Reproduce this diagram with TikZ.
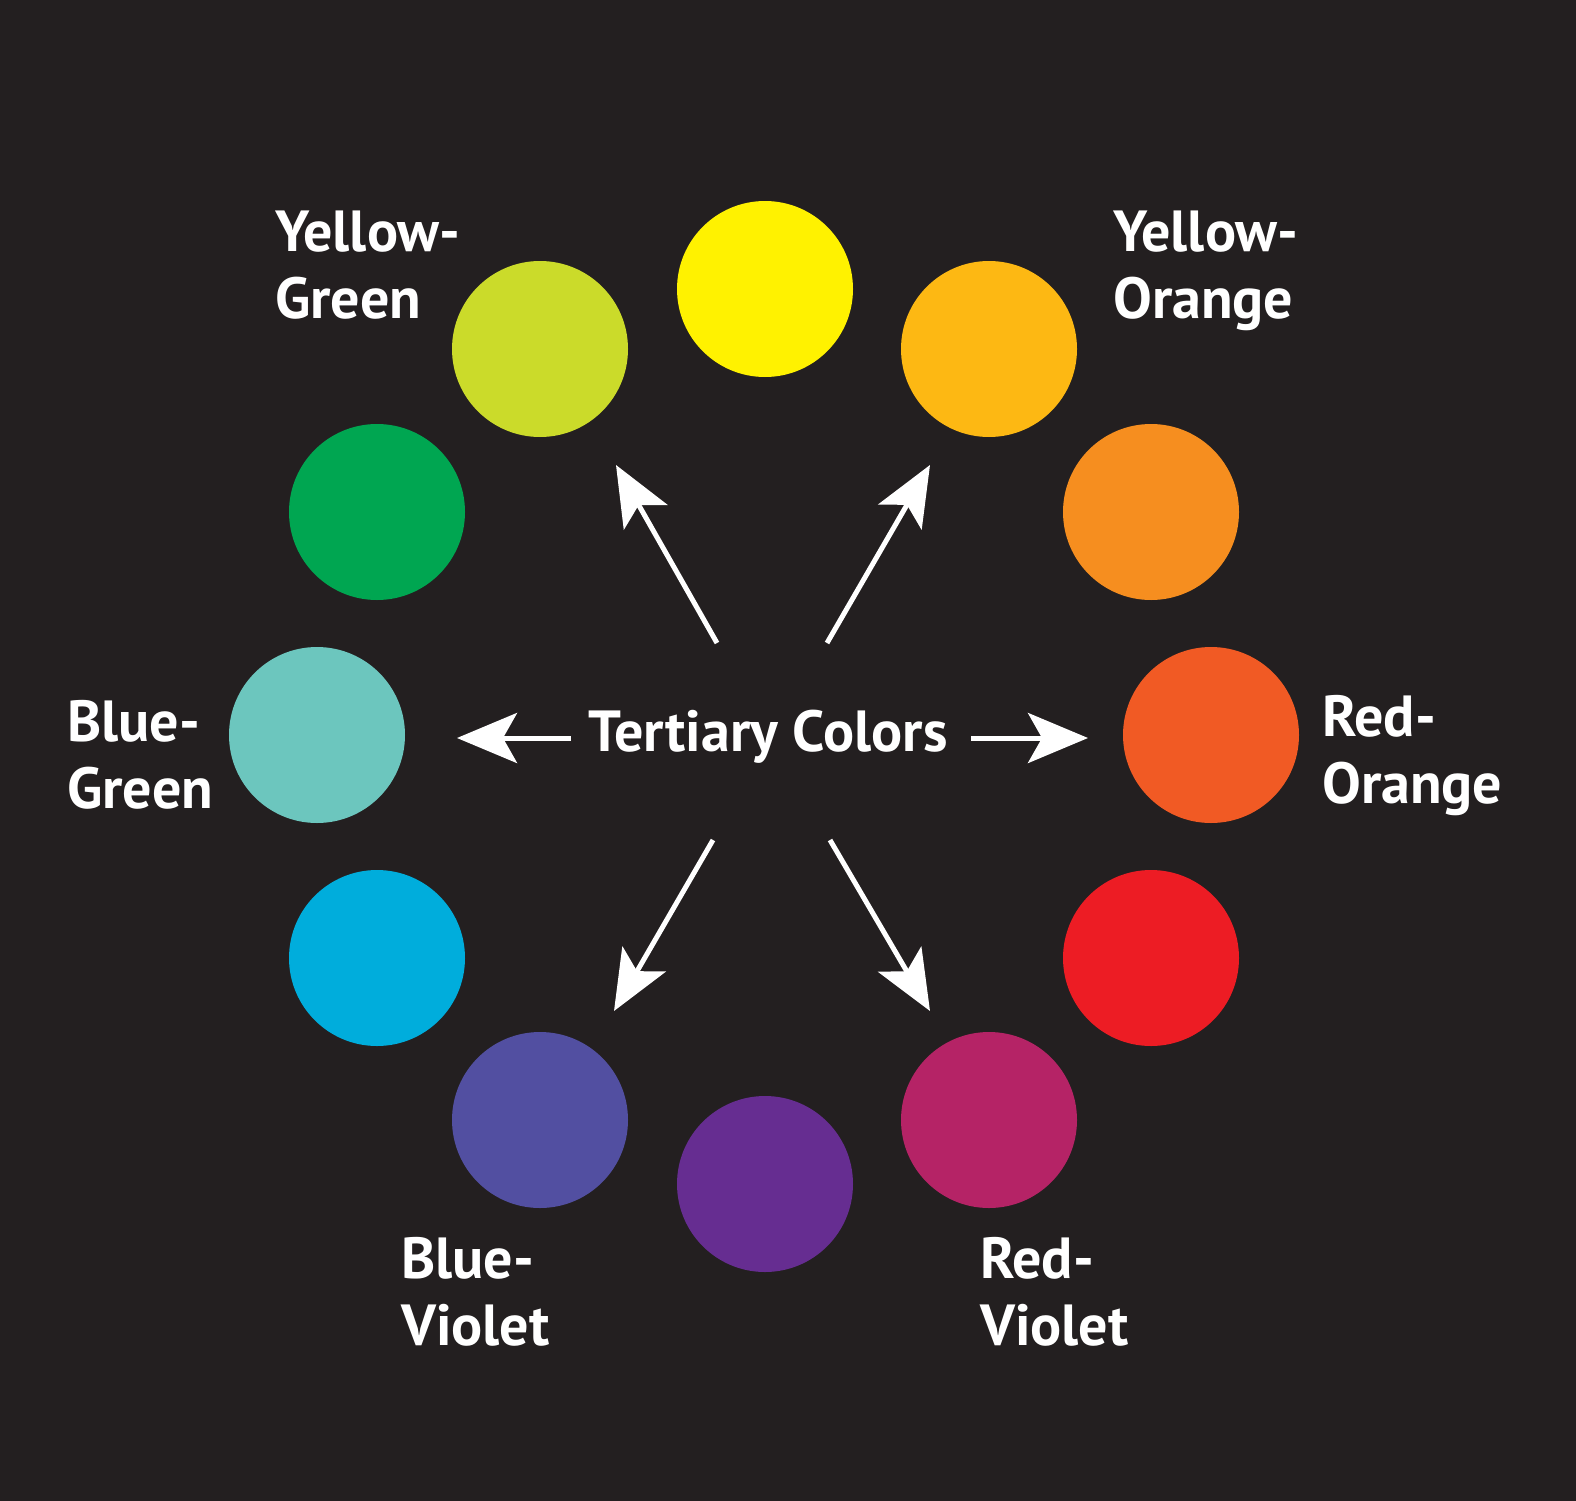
\documentclass[tikz,border=0pt]{standalone}
\usepackage{fontspec}
\setmainfont{PT Sans}
\usetikzlibrary{arrows.meta}
\definecolor{bg}{HTML}{231F20}
\definecolor{cY}{HTML}{FFF200}
\definecolor{cYO}{HTML}{FDB813}
\definecolor{cO}{HTML}{F68E1F}
\definecolor{cRO}{HTML}{F15A24}
\definecolor{cR}{HTML}{ED1C24}
\definecolor{cRV}{HTML}{B52366}
\definecolor{cV}{HTML}{662D91}
\definecolor{cBV}{HTML}{524FA1}
\definecolor{cB}{HTML}{00ADDC}
\definecolor{cBG}{HTML}{6CC6BE}
\definecolor{cG}{HTML}{00A651}
\definecolor{cYG}{HTML}{CBDB2A}
\tikzset{
  dot/.style={circle, inner sep=0pt, minimum size=176pt, draw=none},
  lbl/.style={anchor=base west, inner sep=0pt, align=left, text=white,
    font=\fontsize{58}{67}\selectfont\bfseries},
  title/.style={anchor=base, inner sep=0pt, text=white,
    font=\fontsize{58}{67}\selectfont\bfseries},
  arr/.style={draw=white, line width=5pt,
    -{Stealth[length=60pt, width=50pt, inset=14pt]}}
}
\begin{document}
\begin{tikzpicture}[x=1pt, y=-1pt]
\fill[bg] (0,0) rectangle (1576,1501);
\useasboundingbox (0,0) rectangle (1576,1501);
% circles
\node[dot, fill=cY]  (y)  at (765,289)  {};
\node[dot, fill=cYO] (yo) at (989,349)  {};
\node[dot, fill=cO]  (o)  at (1151,512) {};
\node[dot, fill=cRO] (ro) at (1211,735) {};
\node[dot, fill=cR]  (r)  at (1151,958) {};
\node[dot, fill=cRV] (rv) at (989,1120) {};
\node[dot, fill=cV]  (v)  at (765,1184) {};
\node[dot, fill=cBV] (bv) at (540,1120) {};
\node[dot, fill=cB]  (b)  at (377,958)  {};
\node[dot, fill=cBG] (bg) at (317,735)  {};
\node[dot, fill=cG]  (g)  at (377,512)  {};
\node[dot, fill=cYG] (yg) at (540,349)  {};
% labels (anchor = baseline of the last line)
\node[lbl] (lyg) at (275,318)  {Yellow-\\Green};
\node[lbl] (lyo) at (1113,318) {Yellow-\\Orange};
\node[lbl] (lbg) at (67,808)   {Blue-\\Green};
\node[lbl] (lro) at (1322,803) {Red-\\Orange};
\node[lbl] (lbv) at (401,1345) {Blue-\\Violet};
\node[lbl] (lrv) at (980,1345) {Red-\\Violet};
\node[title] (t) at (768,751) {Tertiary Colors};
% arrow coordinates
\coordinate (ulA) at (717,643);  \coordinate (ulB) at (616,465);
\coordinate (urA) at (827,643);  \coordinate (urB) at (930,465);
\coordinate (dlA) at (713,840);  \coordinate (dlB) at (614,1011);
\coordinate (drA) at (830,840);  \coordinate (drB) at (930,1011);
\coordinate (lA)  at (571,738);  \coordinate (lB)  at (457,738);
\coordinate (rA)  at (971,738);  \coordinate (rB)  at (1088,738);
\draw[arr] (ulA) -- (ulB);
\draw[arr] (urA) -- (urB);
\draw[arr] (dlA) -- (dlB);
\draw[arr] (drA) -- (drB);
\draw[arr] (lA) -- (lB);
\draw[arr] (rA) -- (rB);
\end{tikzpicture}
\end{document}
